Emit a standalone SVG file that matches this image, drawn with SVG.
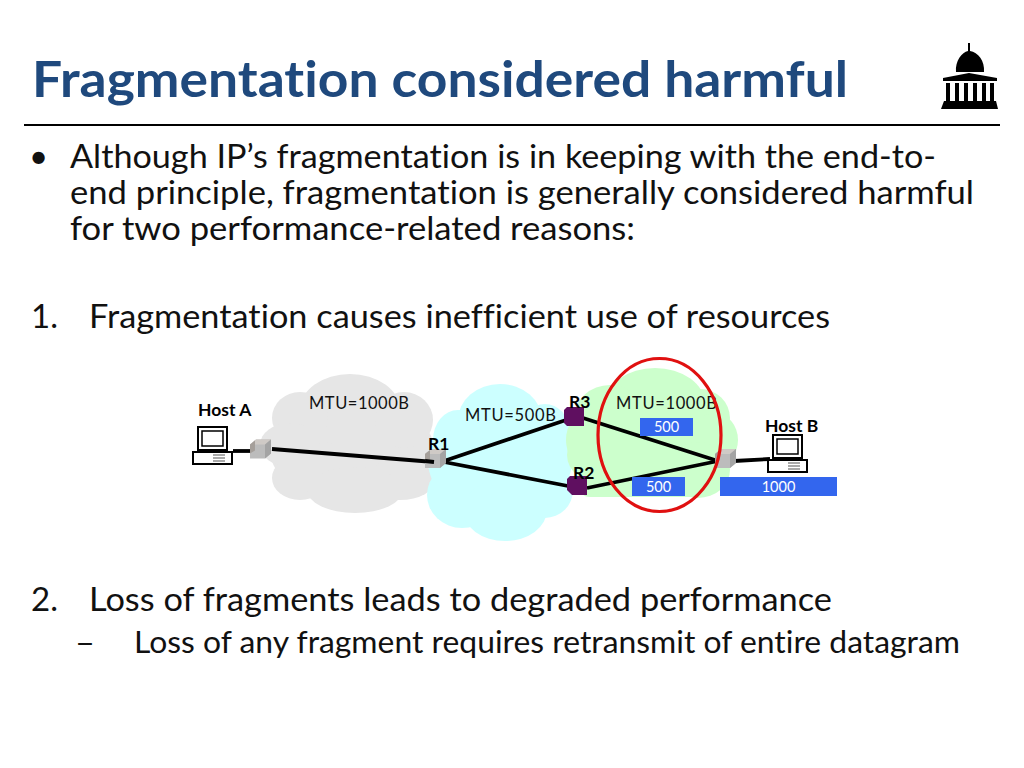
<svg xmlns="http://www.w3.org/2000/svg" width="1024" height="768" viewBox="0 0 1024 768">
<style>
text{font-family:Lato,"Open Sans","Liberation Sans",sans-serif;fill:#111;font-variant-ligatures:none}
.t{font-size:50px;font-weight:700;fill:#1f497d}
.b{font-size:33px}
.s{font-size:30px}
.m{font-size:16.5px}
.h{font-size:17.5px;font-weight:700;fill:#000}
.w{font-size:14.5px;fill:#fff;text-anchor:middle}
.l{fill:none;stroke:#000;stroke-width:3.8}
.bar{fill:#3366ee}
.p{fill:#5f0f60}
.pc{fill:#fff;stroke:#000;stroke-width:2}
</style>
<defs>
<g id="pc">
<rect x="6" y="0" width="29" height="23" class="pc"/>
<rect x="10" y="4" width="21" height="15" fill="#fff" stroke="#000" stroke-width="1.5"/>
<rect x="1" y="25" width="39" height="12" class="pc"/>
<path d="M21 28h12M21 31h12M21 34h12" stroke="#555" stroke-width="1.2" fill="none"/>
</g>
<g id="rt">
<path d="M0 5l6-5h15v14l-6 5H0z" fill="#bcbcbc"/>
<path d="M0 5l6-5h15l-6 5z" fill="#cfcac6"/>
<path d="M0 5l5-4v10l-5 3z" fill="#a59f9a"/>
<path d="M15 5l6-5v14l-6 5z" fill="#a4a4a4"/>
</g>
</defs>
<g id="header">
<text class="t" x="32" y="97" textLength="816" lengthAdjust="spacingAndGlyphs">Fragmentation considered harmful</text>
<rect x="24" y="124" width="976" height="2" fill="#000"/>
<g id="logo" fill="#000">
<path d="M968 43h2v8c8 1 15 10 14 21h-28c-1-11 6-20 12-21z"/>
<path d="M943 78l26-5 28 5v3h-54z"/>
<path d="M946 83h4v19h-4zM955 83h4v19h-4zM964 83h4v19h-4zM973 83h4v19h-4zM982 83h4v19h-4zM990 83h4v19h-4z"/>
<path d="M944 101h52l2 8h-57z"/>
</g>
</g>
<g id="body">
<text class="b" x="29" y="168">•</text>
<text class="b" x="70" y="168" textLength="866" lengthAdjust="spacingAndGlyphs">Although IP’s fragmentation is in keeping with the end-to-</text>
<text class="b" x="70" y="204" textLength="904" lengthAdjust="spacingAndGlyphs">end principle, fragmentation is generally considered harmful</text>
<text class="b" x="70" y="240" textLength="565" lengthAdjust="spacingAndGlyphs">for two performance-related reasons:</text>
<text class="b" x="31" y="328">1.</text>
<text class="b" x="89" y="328" textLength="741" lengthAdjust="spacingAndGlyphs">Fragmentation causes inefficient use of resources</text>
<text class="b" x="31" y="611">2.</text>
<text class="b" x="89" y="611" textLength="743" lengthAdjust="spacingAndGlyphs">Loss of fragments leads to degraded performance</text>
<text class="s" x="75" y="653" textLength="20" lengthAdjust="spacingAndGlyphs">–</text>
<text class="s" x="134" y="653" textLength="826" lengthAdjust="spacingAndGlyphs">Loss of any fragment requires retransmit of entire datagram</text>
</g>
<g id="clouds">
<g id="cloud-grey" fill="#e6e6e6">
<ellipse cx="352" cy="450" rx="82" ry="52"/>
<ellipse cx="350" cy="410" rx="50" ry="36"/>
<ellipse cx="300" cy="418" rx="28" ry="26"/>
<ellipse cx="404" cy="420" rx="29" ry="28"/>
<ellipse cx="290" cy="445" rx="30" ry="22"/>
<ellipse cx="300" cy="478" rx="28" ry="22"/>
<ellipse cx="400" cy="480" rx="35" ry="20"/>
<ellipse cx="355" cy="490" rx="48" ry="23"/>
</g>
<g id="cloud-cyan" fill="#ccffff">
<ellipse cx="500" cy="460" rx="72" ry="60"/>
<ellipse cx="500" cy="420" rx="42" ry="36"/>
<ellipse cx="462" cy="495" rx="35" ry="33"/>
<ellipse cx="505" cy="510" rx="42" ry="31"/>
<ellipse cx="458" cy="440" rx="25" ry="30"/>
<ellipse cx="545" cy="490" rx="28" ry="28"/>
<ellipse cx="545" cy="430" rx="24" ry="26"/>
</g>
<g id="cloud-green" fill="#ccffcc">
<ellipse cx="650" cy="440" rx="84" ry="55"/>
<ellipse cx="655" cy="404" rx="50" ry="36"/>
<ellipse cx="610" cy="418" rx="36" ry="33"/>
<ellipse cx="700" cy="418" rx="30" ry="29"/>
<ellipse cx="715" cy="440" rx="23" ry="27"/>
<ellipse cx="698" cy="470" rx="32" ry="28"/>
<ellipse cx="605" cy="455" rx="38" ry="30"/>
<rect x="578" y="462" width="124" height="35" rx="12"/>
</g>
</g>
<g id="connectors">
<path class="l" d="M233 451L254 451"/>
<path class="l" d="M272 449L434 462"/>
<path class="l" d="M444 461L566 420"/>
<path class="l" d="M444 462L568 486"/>
<path class="l" d="M583 418L718 461"/>
<path class="l" d="M587 488L718 461"/>
<path class="l" d="M734 461L770 459"/>
</g>
<g id="host-a"><use href="#pc" x="192" y="427"/><text class="h" x="198" y="416">Host A</text></g>
<g id="host-b"><use href="#pc" x="767" y="435"/><text class="h" x="765" y="432">Host B</text></g>
<g id="gw-a"><use href="#rt" x="250" y="439.500"/></g>
<g id="r1"><use href="#rt" x="425" y="449"/><path class="l" d="M425 461L434 462"/><text class="h" x="428" y="450">R1</text></g>
<g id="r3"><path class="p" d="M567 407h17v19h-17l-3-3v-13z"/><text class="h" x="569" y="408">R3</text></g>
<g id="r2"><path class="p" d="M570 476h17v19h-15l-5-5v-11z"/><text class="h" x="573" y="479">R2</text></g>
<g id="gw-b"><use href="#rt" x="715" y="449"/></g>
<g id="labels">
<text class="m" x="309" y="409" textLength="100">MTU=1000B</text>
<text class="m" x="465" y="421" textLength="91">MTU=500B</text>
<text class="m" x="616" y="409" textLength="101">MTU=1000B</text>
<rect class="bar" x="640" y="418" width="53" height="18"/><text class="w" x="666.500" y="432">500</text>
<rect class="bar" x="632" y="477" width="53" height="19"/><text class="w" x="658.500" y="492">500</text>
<rect class="bar" x="720" y="477" width="117" height="19"/><text class="w" x="778.500" y="492">1000</text>
</g>
<ellipse id="highlight" cx="659.500" cy="435" rx="61.500" ry="76.500" fill="none" stroke="#e01010" stroke-width="3.200"/>
</svg>
